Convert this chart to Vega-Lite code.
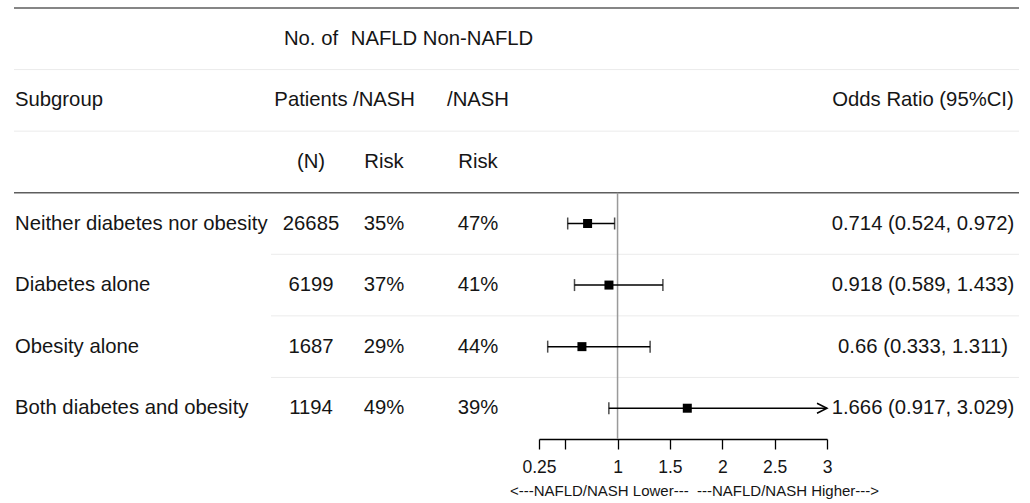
{
  "$schema": "https://vega.github.io/schema/vega-lite/v6.json",
  "padding": {"left": 13, "top": 7, "right": 12, "bottom": 0},
  "bounds": "flush",
  "spacing": 0,
  "config": {
    "view": {"stroke": null},
    "font": "Liberation Sans",
    "text": {"fontSize": 20.3, "color": "#151515", "baseline": "middle"},
    "axis": {"grid": false}
  },
  "datasets": {
    "rows": [
      {"subgroup": "Neither diabetes nor obesity", "n": 26685, "nafld": "35%", "non": "47%", "or": 0.714, "lo": 0.524, "hi": 0.972, "ci": "0.714 (0.524, 0.972)"},
      {"subgroup": "Diabetes alone", "n": 6199, "nafld": "37%", "non": "41%", "or": 0.918, "lo": 0.589, "hi": 1.433, "ci": "0.918 (0.589, 1.433)"},
      {"subgroup": "Obesity alone", "n": 1687, "nafld": "29%", "non": "44%", "or": 0.66, "lo": 0.333, "hi": 1.311, "ci": "0.66 (0.333, 1.311)"},
      {"subgroup": "Both diabetes and obesity", "n": 1194, "nafld": "49%", "non": "39%", "or": 1.666, "lo": 0.917, "hi": 3.029, "ci": "1.666 (0.917, 3.029)"}
    ],
    "header": [
      {"col": "sub", "line": "h2", "text": "Subgroup"},
      {"col": "n", "line": "h1", "text": "No. of"},
      {"col": "n", "line": "h2", "text": "Patients"},
      {"col": "n", "line": "h3", "text": "(N)"},
      {"col": "nafld", "line": "h1", "text": "NAFLD"},
      {"col": "nafld", "line": "h2", "text": "/NASH"},
      {"col": "nafld", "line": "h3", "text": "Risk"},
      {"col": "non", "line": "h1", "text": "Non-NAFLD"},
      {"col": "non", "line": "h2", "text": "/NASH"},
      {"col": "non", "line": "h3", "text": "Risk"},
      {"col": "or", "line": "h2", "text": "Odds Ratio (95%CI)"}
    ],
    "lines": [
      {"line": "h1", "kind": "dark", "data_row": false},
      {"line": "h2", "kind": "light", "data_row": false},
      {"line": "h3", "kind": "light", "data_row": false},
      {"line": "Neither diabetes nor obesity", "kind": "dark", "data_row": true},
      {"line": "Diabetes alone", "kind": "light", "data_row": true},
      {"line": "Obesity alone", "kind": "light", "data_row": true},
      {"line": "Both diabetes and obesity", "kind": "light", "data_row": true}
    ]
  },
  "hconcat": [
    {
      "width": 257, "height": 431,
      "layer": [
        {
          "data": {"name": "lines"},
          "transform": [{"filter": "datum.kind == 'dark' || !datum.data_row"}],
          "mark": {"type": "rule"},
          "encoding": {
            "y": {"field": "line", "type": "nominal", "bandPosition": 0, "axis": null,
                  "scale": {"type": "band", "domain": ["h1", "h2", "h3", "Neither diabetes nor obesity", "Diabetes alone", "Obesity alone", "Both diabetes and obesity"], "paddingInner": 0, "paddingOuter": 0}},
            "color": {"field": "kind", "type": "nominal", "legend": null, "scale": {"domain": ["dark", "light"], "range": ["#5e5e5e", "#ebebeb"]}},
            "strokeWidth": {"field": "kind", "type": "nominal", "legend": null, "scale": {"domain": ["dark", "light"], "range": [1.5, 1]}}
          }
        },
        {
          "data": {"name": "header"},
          "transform": [{"filter": "datum.col == 'sub'"}],
          "mark": {"type": "text", "align": "left", "dx": 1},
          "encoding": {
            "x": {"value": 0},
            "y": {"field": "line", "type": "nominal", "axis": null},
            "text": {"field": "text"}
          }
        },
        {
          "data": {"name": "rows"},
          "mark": {"type": "text", "align": "left", "dx": 1},
          "encoding": {
            "x": {"value": 0},
            "y": {"field": "subgroup", "type": "nominal", "axis": null},
            "text": {"field": "subgroup"}
          }
        }
      ]
    },
    {
      "width": 80, "height": 431,
      "layer": [
        {
          "data": {"name": "lines"},
          "mark": {"type": "rule"},
          "encoding": {
            "y": {"field": "line", "type": "nominal", "bandPosition": 0, "axis": null,
                  "scale": {"type": "band", "domain": ["h1", "h2", "h3", "Neither diabetes nor obesity", "Diabetes alone", "Obesity alone", "Both diabetes and obesity"], "paddingInner": 0, "paddingOuter": 0}},
            "color": {"field": "kind", "type": "nominal", "legend": null, "scale": {"domain": ["dark", "light"], "range": ["#5e5e5e", "#ebebeb"]}},
            "strokeWidth": {"field": "kind", "type": "nominal", "legend": null, "scale": {"domain": ["dark", "light"], "range": [1.5, 1]}}
          }
        },
        {
          "data": {"name": "header"},
          "transform": [{"filter": "datum.col == 'n'"}],
          "mark": {"type": "text", "align": "center"},
          "encoding": {
            "y": {"field": "line", "type": "nominal", "axis": null},
            "text": {"field": "text"}
          }
        },
        {
          "data": {"name": "rows"},
          "mark": {"type": "text", "align": "center"},
          "encoding": {
            "y": {"field": "subgroup", "type": "nominal", "axis": null},
            "text": {"field": "n", "type": "nominal"}
          }
        }
      ]
    },
    {
      "width": 66, "height": 431,
      "layer": [
        {
          "data": {"name": "lines"},
          "mark": {"type": "rule"},
          "encoding": {
            "y": {"field": "line", "type": "nominal", "bandPosition": 0, "axis": null,
                  "scale": {"type": "band", "domain": ["h1", "h2", "h3", "Neither diabetes nor obesity", "Diabetes alone", "Obesity alone", "Both diabetes and obesity"], "paddingInner": 0, "paddingOuter": 0}},
            "color": {"field": "kind", "type": "nominal", "legend": null, "scale": {"domain": ["dark", "light"], "range": ["#5e5e5e", "#ebebeb"]}},
            "strokeWidth": {"field": "kind", "type": "nominal", "legend": null, "scale": {"domain": ["dark", "light"], "range": [1.5, 1]}}
          }
        },
        {
          "data": {"name": "header"},
          "transform": [{"filter": "datum.col == 'nafld'"}],
          "mark": {"type": "text", "align": "center"},
          "encoding": {
            "y": {"field": "line", "type": "nominal", "axis": null},
            "text": {"field": "text"}
          }
        },
        {
          "data": {"name": "rows"},
          "mark": {"type": "text", "align": "center"},
          "encoding": {
            "y": {"field": "subgroup", "type": "nominal", "axis": null},
            "text": {"field": "nafld"}
          }
        }
      ]
    },
    {
      "width": 122, "height": 431,
      "layer": [
        {
          "data": {"name": "lines"},
          "mark": {"type": "rule"},
          "encoding": {
            "y": {"field": "line", "type": "nominal", "bandPosition": 0, "axis": null,
                  "scale": {"type": "band", "domain": ["h1", "h2", "h3", "Neither diabetes nor obesity", "Diabetes alone", "Obesity alone", "Both diabetes and obesity"], "paddingInner": 0, "paddingOuter": 0}},
            "color": {"field": "kind", "type": "nominal", "legend": null, "scale": {"domain": ["dark", "light"], "range": ["#5e5e5e", "#ebebeb"]}},
            "strokeWidth": {"field": "kind", "type": "nominal", "legend": null, "scale": {"domain": ["dark", "light"], "range": [1.5, 1]}}
          }
        },
        {
          "data": {"name": "header"},
          "transform": [{"filter": "datum.col == 'non'"}],
          "mark": {"type": "text", "align": "center"},
          "encoding": {
            "y": {"field": "line", "type": "nominal", "axis": null},
            "text": {"field": "text"}
          }
        },
        {
          "data": {"name": "rows"},
          "mark": {"type": "text", "align": "center"},
          "encoding": {
            "y": {"field": "subgroup", "type": "nominal", "axis": null},
            "text": {"field": "non"}
          }
        }
      ]
    },
    {
      "width": 288, "height": 431,
      "layer": [
        {
          "data": {"name": "lines"},
          "mark": {"type": "rule"},
          "encoding": {
            "y": {"field": "line", "type": "nominal", "bandPosition": 0, "axis": null,
                  "scale": {"type": "band", "domain": ["h1", "h2", "h3", "Neither diabetes nor obesity", "Diabetes alone", "Obesity alone", "Both diabetes and obesity"], "paddingInner": 0, "paddingOuter": 0}},
            "color": {"field": "kind", "type": "nominal", "legend": null, "scale": {"domain": ["dark", "light"], "range": ["#5e5e5e", "#ebebeb"]}},
            "strokeWidth": {"field": "kind", "type": "nominal", "legend": null, "scale": {"domain": ["dark", "light"], "range": [1.5, 1]}}
          }
        },
        {
          "data": {"values": [{}]},
          "mark": {"type": "rule", "color": "#9a9a9a", "strokeWidth": 1.5},
          "encoding": {
            "x": {"datum": 1, "type": "quantitative",
                  "scale": {"domain": [0.25, 3], "nice": false, "zero": false, "clamp": true},
                  "title": "<---NAFLD/NASH Lower--- \u00a0---NAFLD/NASH Higher--->",
                  "axis": {
                    "values": [0.25, 0.5, 1, 1.5, 2, 2.5, 3],
                    "format": "~g",
                    "labelExpr": "datum.value == 0.5 ? '' : datum.label",
                    "domainColor": "#000", "domainWidth": 1.3,
                    "tickColor": "#000", "tickWidth": 1.3, "tickSize": 10,
                    "labelFontSize": 17.5, "labelColor": "#151515", "labelPadding": 9,
                    "labelFlush": false, "labelOverlap": false,
                    "titleFontSize": 15, "titleFontWeight": "normal", "titleColor": "#151515",
                    "titlePadding": 8, "titleX": 155, "titleAlign": "center"
                  }},
            "y": {"datum": "Neither diabetes nor obesity", "type": "nominal", "bandPosition": 0, "axis": null},
            "y2": {"value": "height"}
          }
        },
        {
          "data": {"name": "rows"},
          "mark": {"type": "rule", "color": "#000", "strokeWidth": 1.5},
          "encoding": {
            "x": {"field": "lo", "type": "quantitative", "title": "<---NAFLD/NASH Lower--- \u00a0---NAFLD/NASH Higher--->"},
            "x2": {"field": "hi"},
            "y": {"field": "subgroup", "type": "nominal", "axis": null}
          }
        },
        {
          "data": {"name": "rows"},
          "mark": {"type": "tick", "orient": "vertical", "color": "#000", "size": 12, "thickness": 1.5},
          "encoding": {
            "x": {"field": "lo", "type": "quantitative", "title": "<---NAFLD/NASH Lower--- \u00a0---NAFLD/NASH Higher--->"},
            "y": {"field": "subgroup", "type": "nominal", "axis": null}
          }
        },
        {
          "data": {"name": "rows"},
          "transform": [{"filter": "datum.hi <= 3"}],
          "mark": {"type": "tick", "orient": "vertical", "color": "#000", "size": 12, "thickness": 1.5},
          "encoding": {
            "x": {"field": "hi", "type": "quantitative", "title": "<---NAFLD/NASH Lower--- \u00a0---NAFLD/NASH Higher--->"},
            "y": {"field": "subgroup", "type": "nominal", "axis": null}
          }
        },
        {
          "data": {"name": "rows"},
          "transform": [{"filter": "datum.hi > 3"}],
          "mark": {"type": "point", "shape": "M-2,-1L0,0L-2,1", "filled": false, "stroke": "#000", "strokeWidth": 1.5, "size": 100, "opacity": 1},
          "encoding": {
            "x": {"field": "hi", "type": "quantitative", "title": "<---NAFLD/NASH Lower--- \u00a0---NAFLD/NASH Higher--->"},
            "y": {"field": "subgroup", "type": "nominal", "axis": null}
          }
        },
        {
          "data": {"name": "rows"},
          "mark": {"type": "point", "shape": "square", "filled": true, "color": "#000", "size": 81, "opacity": 1},
          "encoding": {
            "x": {"field": "or", "type": "quantitative", "title": "<---NAFLD/NASH Lower--- \u00a0---NAFLD/NASH Higher--->"},
            "y": {"field": "subgroup", "type": "nominal", "axis": null}
          }
        }
      ]
    },
    {
      "width": 192, "height": 431,
      "layer": [
        {
          "data": {"name": "lines"},
          "mark": {"type": "rule"},
          "encoding": {
            "y": {"field": "line", "type": "nominal", "bandPosition": 0, "axis": null,
                  "scale": {"type": "band", "domain": ["h1", "h2", "h3", "Neither diabetes nor obesity", "Diabetes alone", "Obesity alone", "Both diabetes and obesity"], "paddingInner": 0, "paddingOuter": 0}},
            "color": {"field": "kind", "type": "nominal", "legend": null, "scale": {"domain": ["dark", "light"], "range": ["#5e5e5e", "#ebebeb"]}},
            "strokeWidth": {"field": "kind", "type": "nominal", "legend": null, "scale": {"domain": ["dark", "light"], "range": [1.5, 1]}}
          }
        },
        {
          "data": {"name": "header"},
          "transform": [{"filter": "datum.col == 'or'"}],
          "mark": {"type": "text", "align": "center"},
          "encoding": {
            "y": {"field": "line", "type": "nominal", "axis": null},
            "text": {"field": "text"}
          }
        },
        {
          "data": {"name": "rows"},
          "mark": {"type": "text", "align": "center"},
          "encoding": {
            "y": {"field": "subgroup", "type": "nominal", "axis": null},
            "text": {"field": "ci"}
          }
        }
      ]
    }
  ]
}
